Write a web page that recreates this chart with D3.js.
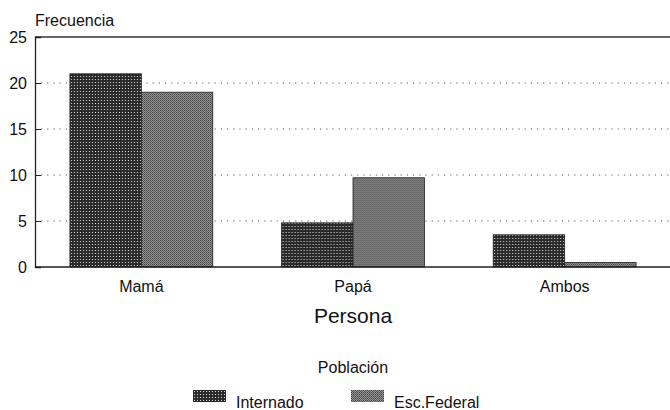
<!DOCTYPE html>
<html>
<head>
<meta charset="utf-8">
<script src="https://cdn.jsdelivr.net/npm/d3@7"></script>
<style>
  body { margin: 0; background: #fff; }
  svg { font-family: "Liberation Sans", Arial, sans-serif; }
</style>
</head>
<body>
<div id="chart"></div>
<script>
const categories = ["Mamá", "Papá", "Ambos"];
const seriesNames = ["Internado", "Esc.Federal"];
const internado = [21, 4.8, 3.5];
const escFederal = [19, 9.7, 0.5];
const yTicks = [0, 5, 10, 15, 20, 25];

const width = 670;
const height = 410;
const plotLeft = 35;
const plotRight = 671;
const plotTop = 37;
const plotBottom = 267;

const svg = d3
  .select("#chart")
  .append("svg")
  .attr("width", width)
  .attr("height", height);

// halftone-ish fills
const defs = svg.append("defs");
const pat1 = defs
  .append("pattern")
  .attr("id", "pat-int")
  .attr("width", 3)
  .attr("height", 3)
  .attr("patternUnits", "userSpaceOnUse");
pat1.append("rect").attr("width", 3).attr("height", 3).attr("fill", "#2a2a2a");
pat1.append("rect").attr("x", 1).attr("y", 1).attr("width", 1).attr("height", 1).attr("fill", "#d8d8d8");

const pat2 = defs
  .append("pattern")
  .attr("id", "pat-fed")
  .attr("width", 2)
  .attr("height", 2)
  .attr("patternUnits", "userSpaceOnUse");
pat2.append("rect").attr("width", 2).attr("height", 2).attr("fill", "#9a9a9a");
pat2.append("rect").attr("width", 1).attr("height", 1).attr("fill", "#3c3c3c");
pat2.append("rect").attr("x", 1).attr("y", 1).attr("width", 1).attr("height", 1).attr("fill", "#5a5a5a");

const fills = ["url(#pat-int)", "url(#pat-fed)"];

const x = d3
  .scaleBand()
  .domain(categories)
  .range([plotLeft, plotRight])
  .paddingInner(0.325)
  .paddingOuter(0.165);

const xs = d3
  .scaleBand()
  .domain(seriesNames)
  .range([0, x.bandwidth()]);

const y = d3.scaleLinear().domain([0, 25]).range([plotBottom, plotTop]);

// dotted gridlines
svg
  .append("g")
  .selectAll("line")
  .data(yTicks.filter((t) => t > 0 && t < 25))
  .enter()
  .append("line")
  .attr("x1", plotLeft + 6)
  .attr("x2", width)
  .attr("y1", (d) => y(d))
  .attr("y2", (d) => y(d))
  .attr("stroke", "#555")
  .attr("stroke-width", 1)
  .attr("stroke-dasharray", "1.2,5");

// top frame line
svg
  .append("line")
  .attr("x1", plotLeft)
  .attr("x2", width)
  .attr("y1", y(25))
  .attr("y2", y(25))
  .attr("stroke", "#333")
  .attr("stroke-width", 1.3);

// bars
const rows = categories.map((c, i) => ({
  cat: c,
  values: [internado[i], escFederal[i]],
}));

const groups = svg
  .append("g")
  .selectAll("g")
  .data(rows)
  .enter()
  .append("g")
  .attr("transform", (d) => `translate(${x(d.cat)},0)`);

groups
  .selectAll("rect")
  .data((d) => d.values.map((v, j) => ({ v, j })))
  .enter()
  .append("rect")
  .attr("x", (d) => xs(seriesNames[d.j]))
  .attr("y", (d) => y(d.v))
  .attr("width", xs.bandwidth())
  .attr("height", (d) => y(0) - y(d.v))
  .attr("fill", (d) => fills[d.j])
  .attr("stroke", "#222")
  .attr("stroke-width", 0.8);

// y axis
const yAxis = svg
  .append("g")
  .attr("transform", `translate(${plotLeft},0)`)
  .call(d3.axisRight(y).tickValues(yTicks).tickSize(6).tickFormat(d3.format("d")));
yAxis.select(".domain").attr("stroke", "#222").attr("stroke-width", 1.3);
yAxis.selectAll(".tick line").attr("stroke", "#222");
yAxis
  .selectAll(".tick text")
  .attr("x", -8)
  .attr("text-anchor", "end")
  .attr("font-size", 16)
  .attr("font-family", "Liberation Sans, Arial, sans-serif")
  .attr("fill", "#111");
yAxis.selectAll(".tick").filter((d) => d === 0).select("line").remove();

// baseline
svg
  .append("line")
  .attr("x1", plotLeft)
  .attr("x2", width)
  .attr("y1", y(0))
  .attr("y2", y(0))
  .attr("stroke", "#222")
  .attr("stroke-width", 1.3);

// x labels
svg
  .append("g")
  .selectAll("text")
  .data(categories)
  .enter()
  .append("text")
  .attr("x", (d) => x(d) + x.bandwidth() / 2)
  .attr("y", 292)
  .attr("text-anchor", "middle")
  .attr("font-size", 16)
  .attr("fill", "#111")
  .text((d) => d);

svg
  .append("text")
  .attr("x", 353)
  .attr("y", 323)
  .attr("text-anchor", "middle")
  .attr("font-size", 21)
  .attr("fill", "#111")
  .text("Persona");

svg
  .append("text")
  .attr("x", 35)
  .attr("y", 26)
  .attr("font-size", 16)
  .attr("fill", "#111")
  .text("Frecuencia");

// legend
svg
  .append("text")
  .attr("x", 353)
  .attr("y", 373)
  .attr("text-anchor", "middle")
  .attr("font-size", 16)
  .attr("fill", "#111")
  .text("Población");

const legendX = [193, 351];
const legend = svg
  .append("g")
  .selectAll("g")
  .data(seriesNames)
  .enter()
  .append("g")
  .attr("transform", (d, i) => `translate(${legendX[i]},390)`);

legend
  .append("rect")
  .attr("width", 33)
  .attr("height", 12)
  .attr("fill", (d, i) => fills[i]);

legend
  .append("text")
  .attr("x", 43)
  .attr("y", 18)
  .attr("font-size", 16)
  .attr("fill", "#111")
  .text((d) => d);
</script>
</body>
</html>
